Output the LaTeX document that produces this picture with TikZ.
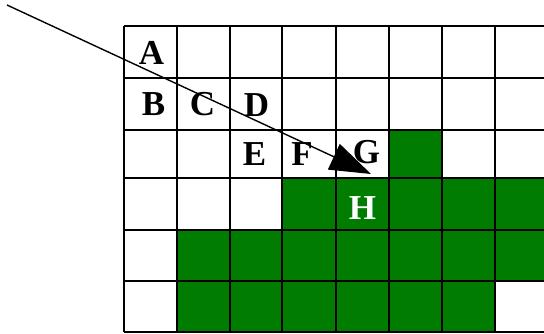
\documentclass[tikz,border=0pt]{standalone}
\usepackage{fontspec}
\setmainfont{Liberation Serif}
\usetikzlibrary{arrows.meta}
\definecolor{cellgreen}{RGB}{0,124,0}
\begin{document}
\begin{tikzpicture}[x=1pt,y=-1pt,
  gridline/.style={line width=1.9pt,black},
  greencell/.style={fill=cellgreen,draw=none},
  letter/.style={font=\bfseries\fontsize{35}{35}\selectfont,inner sep=0pt,anchor=center},
  whiteletter/.style={letter,text=white},
  pointer/.style={line width=1.4pt,-{Triangle[length=41pt,width=28pt]}}]
\useasboundingbox (0,0) rectangle (544,333);
% green cells
\fill[greencell] (389,130) rectangle (442,178);
\fill[greencell] (282,178) rectangle (544,230);
\fill[greencell] (177,230) rectangle (544,281);
\fill[greencell] (177,281) rectangle (495,332);
% grid
\foreach \x in {124,177,230,282,336,389,442,495}
  \draw[gridline] (\x,26) -- (\x,332);
\foreach \y in {26,78,130,178,230,281,332}
  \draw[gridline] (124,\y) -- (544,\y);
% letters
\node[letter] (A) at (151.5,53) {A};
\node[letter] (B) at (153.5,104.5) {B};
\node[letter] (C) at (202.5,104.5) {C};
\node[letter] (D) at (256.5,105) {D};
\node[letter] (E) at (254.5,154.5) {E};
\node[letter] (F) at (302,154.5) {F};
\node[letter] (G) at (366.5,152) {G};
\node[whiteletter] (H) at (362.5,208) {H};
% arrow
\coordinate (s) at (7,5);
\coordinate (t) at (371,174);
\draw[pointer] (s) -- (t);
\end{tikzpicture}
\end{document}
